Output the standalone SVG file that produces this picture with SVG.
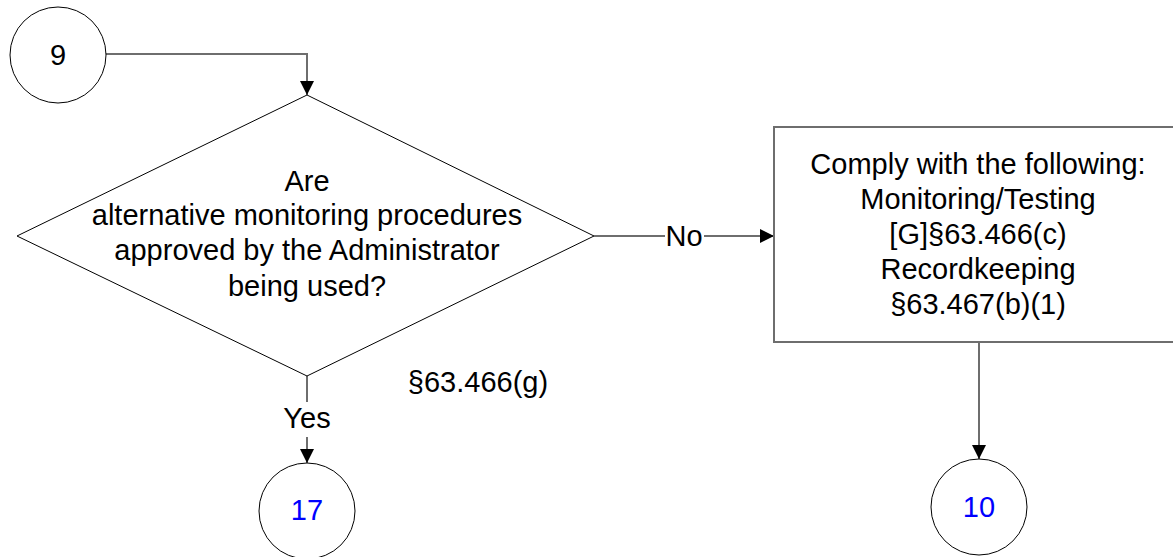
<svg xmlns="http://www.w3.org/2000/svg" width="1173" height="557" viewBox="0 0 1173 557">
<style>
text{font-family:"Liberation Sans",Arial,sans-serif;font-size:29px;fill:#000;text-anchor:middle}
.blue{fill:#0000ff}
.node{fill:#fff;stroke:#000;stroke-width:1}
.box{fill:#fff;stroke:#6e6e6e;stroke-width:2}
.conn{fill:none;stroke:#6e6e6e;stroke-width:2}
</style>
<defs>
<marker id="arr" markerUnits="userSpaceOnUse" markerWidth="16" markerHeight="16" refX="14" refY="7" orient="auto">
<path d="M0,0 L14,7 L0,14 Z" fill="#000"/>
</marker>
</defs>
<rect width="1173" height="557" fill="#fff"/>
<g id="connectors">
<polyline class="conn" points="106,54 307,54 307,95" marker-end="url(#arr)"/>
<line class="conn" x1="594" y1="236" x2="665" y2="236"/>
<line class="conn" x1="704" y1="236" x2="774" y2="236" marker-end="url(#arr)"/>
<line class="conn" x1="307" y1="376" x2="307" y2="402"/>
<line class="conn" x1="307" y1="437" x2="307" y2="463" marker-end="url(#arr)"/>
<line class="conn" x1="979" y1="342" x2="979" y2="459" marker-end="url(#arr)"/>
<text x="684" y="246">No</text>
<text x="307" y="428">Yes</text>
</g>
<g id="node9">
<circle class="node" cx="58" cy="55" r="48"/>
<text x="58" y="65">9</text>
</g>
<g id="decision">
<polygon class="node" points="307,95 594,236 307,376 17,236"/>
<text x="307" y="191">Are</text>
<text x="307" y="225">alternative monitoring procedures</text>
<text x="307" y="260">approved by the Administrator</text>
<text x="307" y="296">being used?</text>
</g>
<g id="ref">
<text x="478" y="392">§63.466(g)</text>
</g>
<g id="comply">
<rect class="box" x="774" y="127" width="420" height="215"/>
<text x="978" y="174">Comply with the following:</text>
<text x="978" y="209">Monitoring/Testing</text>
<text x="978" y="244">[G]§63.466(c)</text>
<text x="978" y="279">Recordkeeping</text>
<text x="978" y="314">§63.467(b)(1)</text>
</g>
<g id="node17">
<circle class="node" cx="307" cy="511" r="48"/>
<text class="blue" x="307" y="520">17</text>
</g>
<g id="node10">
<circle class="node" cx="979" cy="507" r="48"/>
<text class="blue" x="979" y="517">10</text>
</g>
</svg>
